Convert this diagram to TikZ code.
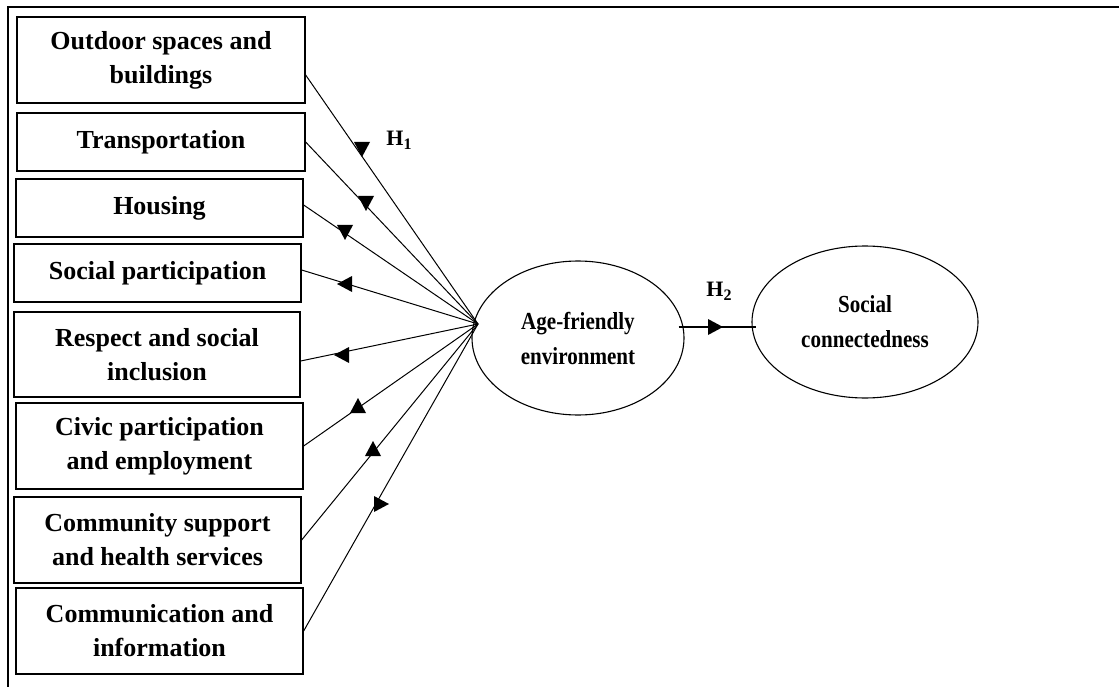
\documentclass[tikz,border=0pt]{standalone}
\usepackage{fontspec}
\setmainfont{Liberation Serif}
\newfontfamily\condfont[FakeStretch=0.86]{Liberation Serif}
\usetikzlibrary{shapes.geometric}
\tikzset{
  box/.style={draw, line width=1.3pt, inner sep=0pt, align=center,
    font=\fontsize{26}{34}\selectfont\bfseries},
  oval/.style={ellipse, draw, line width=1.1pt, inner sep=0pt, align=center,
    font=\condfont\fontsize{24.5}{35}\selectfont\bfseries},
  conn/.style={line width=1pt},
  tiphead/.style={fill=black},
  hlbl/.style={font=\fontsize{22}{22}\selectfont\bfseries, inner sep=0pt},
  frameline/.style={line width=1.6pt}
}
\newcommand{\tiphead}[3]{\fill[tiphead, shift={(#1,#2)}, rotate=#3] (8pt,0pt) -- (-7pt,8pt) -- (-7pt,-8pt) -- cycle;}
\begin{document}
\begin{tikzpicture}[x=1pt, y=-1pt]
\useasboundingbox (0,0) rectangle (1119,687);
\clip (0,0) rectangle (1119,687);
\draw[frameline] (8,700) -- (8,7) -- (1130,7);

\node[box, minimum width=288pt, minimum height=86pt] (b1) at (161,60) {Outdoor spaces and\\buildings};
\node[box, minimum width=288pt, minimum height=58pt] (b2) at (161,142) {Transportation};
\node[box, minimum width=287pt, minimum height=58pt] (b3) at (159.5,208) {Housing};
\node[box, minimum width=287pt, minimum height=58pt] (b4) at (157.5,273) {Social participation};
\node[box, minimum width=286pt, minimum height=85pt] (b5) at (157,354.5) {Respect and social\\inclusion};
\node[box, minimum width=287pt, minimum height=86pt] (b6) at (159.5,446) {Civic participation\\and employment};
\node[box, minimum width=287pt, minimum height=86pt] (b7) at (157.5,540) {Community support\\and health services};
\node[box, minimum width=287pt, minimum height=86pt] (b8) at (159.5,631) {Communication and\\information};

\node[oval, minimum width=212pt, minimum height=154pt] (e1) at (578,338) {Age-friendly\\environment};
\node[oval, minimum width=226pt, minimum height=152pt] (e2) at (865,322) {Social\\connectedness};

\coordinate (hub) at (478,324);

\draw[conn] ([yshift=-15pt]b1.east) -- (hub);
\draw[conn] (b2.east) -- (hub);
\draw[conn] ([yshift=3pt]b3.east) -- (hub);
\draw[conn] ([yshift=3pt]b4.east) -- (hub);
\draw[conn] ([yshift=-6.5pt]b5.east) -- (hub);
\draw[conn] (b6.east) -- (hub);
\draw[conn] (b7.east) -- (hub);
\draw[conn] (b8.east) -- (hub);

\tiphead{362}{149}{270}
\tiphead{366}{203}{270}
\tiphead{345}{232}{270}
\tiphead{345}{284}{180}
\tiphead{342}{355}{180}
\tiphead{358}{406}{90}
\tiphead{373}{449}{90}
\tiphead{381}{504}{0}

\draw[conn, line width=1.3pt] ([yshift=11pt,xshift=-6pt]e1.east) -- ([yshift=-5pt,xshift=5pt]e2.west);
\tiphead{715}{327}{0}

\node[hlbl] (h1) at (399,140) {H\raisebox{-4pt}{\fontsize{16}{16}\selectfont 1}};
\node[hlbl] (h2) at (719,291) {H\raisebox{-4pt}{\fontsize{16}{16}\selectfont 2}};
\end{tikzpicture}
\end{document}
